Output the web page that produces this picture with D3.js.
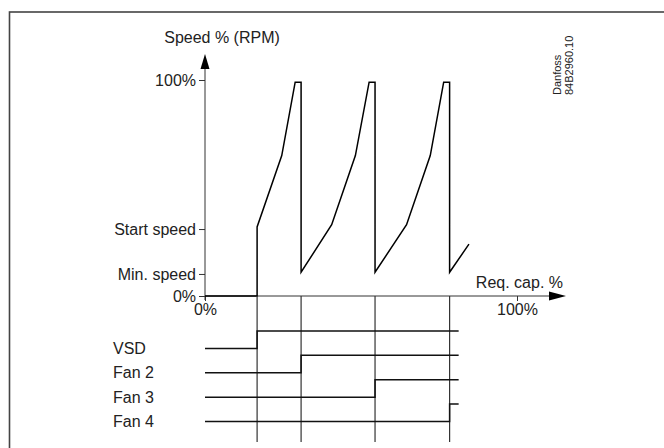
<!DOCTYPE html>
<html>
<head>
<meta charset="utf-8">
<script src="https://cdn.jsdelivr.net/npm/d3@7"></script>
<style>
  body { margin: 0; background: #fff; }
  svg { display: block; font-family: "Liberation Sans", Arial, sans-serif; }
  text { fill: #222; }
</style>
</head>
<body>
<div class="chart"></div>
<script>
var width = 664,
    height = 448;

// speed axis ticks (value in % of max speed) and their labels
var speedTicks = [0, 10.2, 31, 100];
var speedLabels = ["0%", "Min. speed", "Start speed", "100%"];

// capacity axis ticks
var capTicks = [0, 100];
var capLabels = ["0%", "100%"];

// VSD speed curve: [required capacity %, speed %]
var curve = [
    [0, 0], [16.7, 0], [16.7, 32], [24.6, 65], [28.9, 99], [30.8, 99],
    [30.8, 11], [40.6, 33], [48.2, 65], [52.6, 99], [54.5, 99],
    [54.5, 11], [64.6, 33], [72.2, 65], [76.5, 99], [78.4, 99],
    [78.4, 11], [84.6, 24]
];

// switching diagram: row names and the capacity where each one switches on
var rows = ["VSD", "Fan 2", "Fan 3", "Fan 4"];
var switchOn = [16.7, 30.8, 54.5, 78.4];
var stepEnd = 81.3;

var svg = d3.select(".chart")
    .append("svg")
    .attr("width", width)
    .attr("height", height);

// outer frame (runs off the right and bottom edges)
svg.append("rect")
    .attr("x", 9.5)
    .attr("y", 12)
    .attr("width", 700)
    .attr("height", 500)
    .attr("fill", "none")
    .attr("stroke", "#444")
    .attr("stroke-width", 1.6);

var x = d3.scaleLinear().domain([0, 100]).range([205, 517]);
var y = d3.scaleLinear().domain([0, 100]).range([296, 80]);

// y axis (ticks only, the line + arrow drawn by hand)
var yAxis = svg.append("g")
    .attr("transform", "translate(" + x(0) + ",0)")
    .call(d3.axisLeft(y)
        .tickValues(speedTicks)
        .tickSize(6)
        .tickPadding(3)
        .tickFormat(function (d, i) { return speedLabels[i]; }));
yAxis.select(".domain").remove();
yAxis.selectAll("line").attr("stroke", "#333");
yAxis.selectAll("text")
    .style("font-size", "16px")
    .style("font-family", "Liberation Sans, Arial, sans-serif")
    .attr("fill", "#222");

var xAxis = svg.append("g")
    .attr("transform", "translate(0," + y(0) + ")")
    .call(d3.axisBottom(x)
        .tickValues(capTicks)
        .tickSize(5)
        .tickPadding(3)
        .tickFormat(function (d, i) { return capLabels[i]; }));
xAxis.select(".domain").remove();
xAxis.selectAll("line").attr("stroke", "#333");
xAxis.selectAll("text")
    .style("font-size", "16px")
    .style("font-family", "Liberation Sans, Arial, sans-serif")
    .attr("fill", "#222");

// axis lines with arrow heads
svg.append("line")
    .attr("x1", x(0)).attr("y1", y(0) + 4)
    .attr("x2", x(0)).attr("y2", 66)
    .attr("stroke", "#333").attr("stroke-width", 1);
svg.append("path")
    .attr("d", "M" + (x(0) - 4.5) + ",69 L" + x(0) + ",54 L" + (x(0) + 4.5) + ",69 Z")
    .attr("fill", "#000");

svg.append("line")
    .attr("x1", x(0)).attr("y1", y(0))
    .attr("x2", 552).attr("y2", y(0))
    .attr("stroke", "#333").attr("stroke-width", 1);
svg.append("path")
    .attr("d", "M549," + (y(0) - 4.5) + " L566," + y(0) + " L549," + (y(0) + 4.5) + " Z")
    .attr("fill", "#000");

svg.append("text")
    .attr("x", 222).attr("y", 43)
    .attr("text-anchor", "middle")
    .style("font-size", "16px")
    .text("Speed % (RPM)");

svg.append("text")
    .attr("x", 563).attr("y", 288)
    .attr("text-anchor", "end")
    .style("font-size", "16px")
    .text("Req. cap. %");

// speed curve
var line = d3.line()
    .x(function (d) { return x(d[0]); })
    .y(function (d) { return y(d[1]); });

svg.append("path")
    .datum(curve)
    .attr("d", line)
    .attr("fill", "none")
    .attr("stroke", "#000")
    .attr("stroke-width", 1.5)
    .attr("stroke-linejoin", "miter");

// switching diagram
var row = d3.scalePoint().domain(rows).range([348.5, 421.5]);
var rise = 17.5;

svg.append("g")
    .selectAll("line")
    .data(switchOn)
    .enter().append("line")
    .attr("x1", function (d) { return x(d); })
    .attr("x2", function (d) { return x(d); })
    .attr("y1", y(0))
    .attr("y2", 442)
    .attr("stroke", "#333")
    .attr("stroke-width", 1.2);

svg.append("g")
    .selectAll("path")
    .data(rows)
    .enter().append("path")
    .attr("d", function (d, i) {
        var r = row(d), s = x(switchOn[i]);
        return "M" + x(0) + "," + r + " H" + s + " V" + (r - rise) + " H" + x(stepEnd);
    })
    .attr("fill", "none")
    .attr("stroke", "#111")
    .attr("stroke-width", 1.5);

svg.append("g")
    .selectAll("text")
    .data(rows)
    .enter().append("text")
    .attr("x", 113)
    .attr("y", function (d) { return row(d); })
    .attr("dy", "0.35em")
    .style("font-size", "16px")
    .text(function (d) { return d; });

// drawing reference
var ref = svg.append("g").style("font-size", "11px");
ref.append("text")
    .attr("transform", "translate(561,95) rotate(-90)")
    .text("Danfoss");
ref.append("text")
    .attr("transform", "translate(572.5,95) rotate(-90)")
    .text("84B2960.10");
</script>
</body>
</html>
